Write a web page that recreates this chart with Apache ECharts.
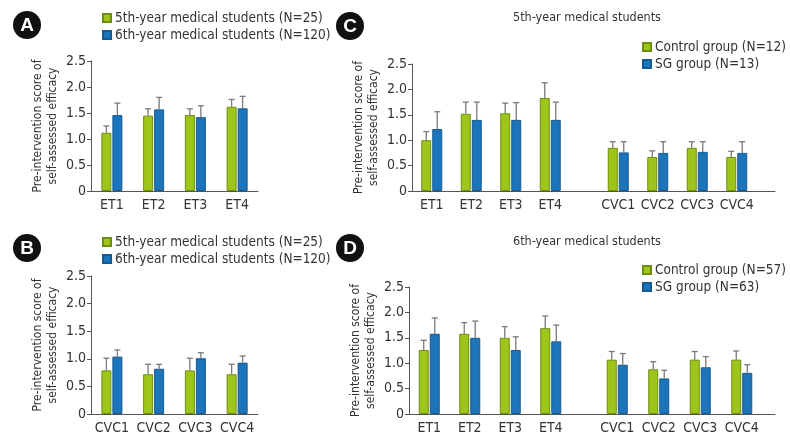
<!DOCTYPE html>
<html>
<head>
<meta charset="utf-8">
<script src="https://cdn.jsdelivr.net/npm/echarts@6/dist/echarts.min.js"></script>
<style>html,body{margin:0;padding:0;background:#fff}#c{width:790px;height:448px}</style>
</head>
<body>
<div id="c"></div>
<script>
// ---------- DATA ----------
const etCats = ['ET1', 'ET2', 'ET3', 'ET4'];
const cvcCats = ['CVC1', 'CVC2', 'CVC3', 'CVC4'];
const yTicks = [0, 0.5, 1.0, 1.5, 2.0, 2.5];

const nameY5 = '5th-year medical students (N=25)';
const nameY6 = '6th-year medical students (N=120)';

// Panel A (ET, 5th vs 6th)
const aY5 = [1.12, 1.45, 1.46, 1.62];
const aY5Err = [0.13, 0.13, 0.12, 0.14];
const aY6 = [1.46, 1.57, 1.42, 1.59];
const aY6Err = [0.23, 0.23, 0.22, 0.23];

// Panel B (CVC, 5th vs 6th)
const bY5 = [0.79, 0.72, 0.79, 0.72];
const bY5Err = [0.22, 0.18, 0.22, 0.18];
const bY6 = [1.04, 0.82, 1.01, 0.93];
const bY6Err = [0.12, 0.08, 0.10, 0.12];

// Panel C (5th-year: control vs SG)
const cTitle = '5th-year medical students';
const cCtrlName = 'Control group (N=12)';
const cSgName = 'SG group (N=13)';
const cCtrlET = [1.00, 1.52, 1.53, 1.83];
const cCtrlETErr = [0.17, 0.23, 0.20, 0.30];
const cSgET = [1.22, 1.40, 1.40, 1.40];
const cSgETErr = [0.34, 0.35, 0.34, 0.35];
const cCtrlCVC = [0.85, 0.67, 0.85, 0.67];
const cCtrlCVCErr = [0.12, 0.12, 0.12, 0.11];
const cSgCVC = [0.76, 0.75, 0.77, 0.75];
const cSgCVCErr = [0.21, 0.22, 0.20, 0.22];

// Panel D (6th-year: control vs SG)
const dTitle = '6th-year medical students';
const dCtrlName = 'Control group (N=57)';
const dSgName = 'SG group (N=63)';
const dCtrlET = [1.26, 1.58, 1.50, 1.69];
const dCtrlETErr = [0.19, 0.22, 0.22, 0.24];
const dSgET = [1.58, 1.50, 1.26, 1.43];
const dSgETErr = [0.31, 0.33, 0.26, 0.32];
const dCtrlCVC = [1.07, 0.88, 1.07, 1.07];
const dCtrlCVCErr = [0.16, 0.15, 0.16, 0.17];
const dSgCVC = [0.97, 0.70, 0.92, 0.81];
const dSgCVCErr = [0.22, 0.16, 0.21, 0.16];

const yName = 'Pre-intervention score of\nself-assessed efficacy';

// ---------- STYLE ----------
const FONT = "'Liberation Sans Narrow', 'DejaVu Sans Condensed', Roboto, sans-serif";
const GREEN = '#9ec51a', GREEN_B = '#6e8e12';
const BLUE = '#1c74bb', BLUE_B = '#165a90';
const AXIS = '#555';
const TXT = '#333';
const ERR = '#7a7a7a';
const BW = 10;
const OFF = 5.5;

const chart = echarts.init(document.getElementById('c'));

const grids = [
  {left: 91, top: 61, width: 167, height: 130},     // 0 A
  {left: 91, top: 276, width: 167, height: 138},    // 1 B
  {left: 412, top: 64, width: 158, height: 127},    // 2 C-ET
  {left: 598.5, top: 64, width: 158, height: 127},  // 3 C-CVC
  {left: 412, top: 64, width: 363, height: 127},    // 4 C-axis line
  {left: 409, top: 287, width: 162, height: 127},   // 5 D-ET
  {left: 596.5, top: 287, width: 166, height: 127}, // 6 D-CVC
  {left: 409, top: 287, width: 366, height: 127}    // 7 D-axis line
];

function catX(gi, cats) {
  return {
    type: 'category', gridIndex: gi, data: cats,
    axisLine: {show: false}, axisTick: {show: false},
    axisLabel: {color: TXT, fontSize: 14, fontFamily: FONT, margin: 7, interval: 0}
  };
}
function lineX(gi) {
  return {
    type: 'value', gridIndex: gi, min: 0, max: 1,
    axisLine: {show: true, onZero: false, lineStyle: {color: AXIS, width: 1}},
    axisTick: {show: false}, axisLabel: {show: false}, splitLine: {show: false}
  };
}
function catXLine(gi, cats) {
  const x = catX(gi, cats);
  x.axisLine = {show: true, lineStyle: {color: AXIS, width: 1}};
  return x;
}
function yAx(gi, visible) {
  return {
    type: 'value', gridIndex: gi, min: 0, max: 2.5, interval: 0.5, show: visible,
    name: visible ? yName : '', nameLocation: 'middle', nameRotate: 90, nameGap: 31,
    nameTextStyle: {color: TXT, fontSize: 12, lineHeight: 15, fontFamily: FONT},
    axisLine: {show: true, lineStyle: {color: AXIS, width: 1}},
    axisTick: {show: true, length: 4, lineStyle: {color: AXIS}},
    splitLine: {show: false},
    axisLabel: {color: TXT, fontSize: 14, fontFamily: FONT, margin: 5,
      formatter: v => (yTicks.indexOf(v) >= 0 ? (v === 0 ? '0' : v.toFixed(1)) : '')}
  };
}

const xAxes = [
  catXLine(0, etCats), catXLine(1, cvcCats),
  catX(2, etCats), catX(3, cvcCats), lineX(4),
  catX(5, etCats), catX(6, cvcCats), lineX(7)
];
const yAxes = [
  yAx(0, true), yAx(1, true), yAx(2, true), yAx(3, false), yAx(4, false),
  yAx(5, true), yAx(6, false), yAx(7, false)
];

function bar(name, data, ai, green) {
  return {
    type: 'bar', name: name, xAxisIndex: ai, yAxisIndex: ai, data: data,
    barWidth: BW, barGap: '10%',
    itemStyle: {color: green ? GREEN : BLUE, borderColor: green ? GREEN_B : BLUE_B, borderWidth: 1},
    emphasis: {disabled: true}, animation: false
  };
}
function err(vals, errs, ai, offset) {
  return {
    type: 'custom', xAxisIndex: ai, yAxisIndex: ai, animation: false, z: 3,
    data: vals.map((v, i) => [i, v, errs[i]]),
    renderItem: function (params, api) {
      const base = api.coord([api.value(0), api.value(1)]);
      const top = api.coord([api.value(0), api.value(1) + api.value(2)]);
      const cx = base[0] + offset;
      const st = {stroke: ERR, lineWidth: 1.3};
      return {type: 'group', children: [
        {type: 'line', shape: {x1: cx, y1: base[1], x2: cx, y2: top[1]}, style: st},
        {type: 'line', shape: {x1: cx - 3, y1: top[1], x2: cx + 3, y2: top[1]}, style: st}
      ]};
    }
  };
}

const series = [
  bar(nameY5, aY5, 0, true), bar(nameY6, aY6, 0, false),
  err(aY5, aY5Err, 0, -OFF), err(aY6, aY6Err, 0, OFF),
  bar(nameY5, bY5, 1, true), bar(nameY6, bY6, 1, false),
  err(bY5, bY5Err, 1, -OFF), err(bY6, bY6Err, 1, OFF),
  bar(cCtrlName, cCtrlET, 2, true), bar(cSgName, cSgET, 2, false),
  err(cCtrlET, cCtrlETErr, 2, -OFF), err(cSgET, cSgETErr, 2, OFF),
  bar(cCtrlName, cCtrlCVC, 3, true), bar(cSgName, cSgCVC, 3, false),
  err(cCtrlCVC, cCtrlCVCErr, 3, -OFF), err(cSgCVC, cSgCVCErr, 3, OFF),
  bar(dCtrlName, dCtrlET, 5, true), bar(dSgName, dSgET, 5, false),
  err(dCtrlET, dCtrlETErr, 5, -OFF), err(dSgET, dSgETErr, 5, OFF),
  bar(dCtrlName, dCtrlCVC, 6, true), bar(dSgName, dSgCVC, 6, false),
  err(dCtrlCVC, dCtrlCVCErr, 6, -OFF), err(dSgCVC, dSgCVCErr, 6, OFF)
];

function legend(names, left, top) {
  return {
    data: names, left: left, top: top, orient: 'vertical',
    itemWidth: 8, itemHeight: 8, itemGap: 3, padding: 0,
    selectedMode: false, icon: 'rect',
    textStyle: {color: TXT, fontSize: 13.5, lineHeight: 14, fontFamily: FONT, padding: [0, 0, 0, -1]}
  };
}

function badge(letter, x, y) {
  return {
    type: 'group', x: x, y: y, children: [
      {type: 'circle', shape: {cx: 0, cy: 0, r: 14}, style: {fill: '#111'}},
      {type: 'text', x: 0, y: 1, style: {text: letter, fill: '#fff', font: "bold 19px 'Liberation Sans', Arial, sans-serif",
        textAlign: 'center', textVerticalAlign: 'middle'}}
    ]
  };
}
function title(text, x, y) {
  return {type: 'text', x: x, y: y, style: {text: text, fill: TXT, font: "12.5px " + FONT,
    textAlign: 'center', textVerticalAlign: 'middle'}};
}

chart.setOption({
  animation: false,
  grid: grids,
  xAxis: xAxes,
  yAxis: yAxes,
  series: series,
  legend: [
    legend([nameY5, nameY6], 102, 11),
    legend([nameY5, nameY6], 102, 235),
    legend([cCtrlName, cSgName], 642, 40),
    legend([dCtrlName, dSgName], 642, 263)
  ],
  graphic: [
    badge('A', 27, 25), badge('B', 27, 248), badge('C', 350, 26), badge('D', 350, 248),
    title(cTitle, 587, 18), title(dTitle, 587, 242)
  ]
});
</script>
</body>
</html>
